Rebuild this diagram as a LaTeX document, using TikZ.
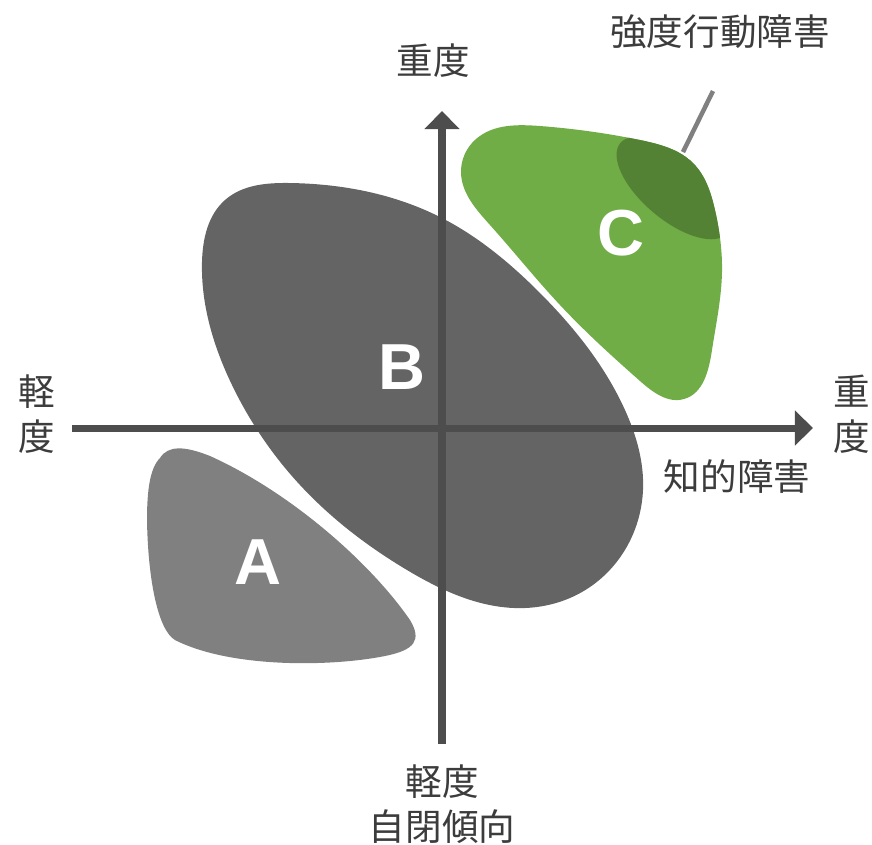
\documentclass[tikz,border=0pt]{standalone}
\usepackage{fontspec}
\setmainfont{Liberation Sans}
\newfontfamily\jpfont{Noto Sans CJK JP}
\usetikzlibrary{positioning,calc,arrows.meta,hobby}
\definecolor{groupA}{HTML}{808080}
\definecolor{groupB}{HTML}{646464}
\definecolor{groupC}{HTML}{70AD47}
\definecolor{severe}{HTML}{548235}
\definecolor{axisgray}{HTML}{4D4D4D}
\definecolor{textgray}{HTML}{3C3C3C}
\newcommand{\blobC}{(476,139) .. (540,126) .. (640,140) .. (693,163) .. (715,210) .. (722,272) .. (712,350) .. (684,399) .. (640,381) .. (560,305) .. (490,225) .. (461,173)}

\begin{document}
\begin{tikzpicture}[x=0.01cm, y=-0.01cm,
		axis/.style={draw=axisgray, line width=0.07cm, -{Triangle[length=0.18cm, width=0.34cm]}},
		lbl/.style={text=textgray, font=\jpfont\fontsize{10.4}{12.8}\selectfont, align=center, inner sep=0pt},
		letter/.style={text=white, font=\bfseries\fontsize{18.5}{20}\selectfont, inner sep=0pt}]
	\useasboundingbox (0,0) rectangle (872,844);
	\fill[groupB, use Hobby shortcut, closed=true] (290,183) .. (440,217) .. (540,293) .. (625,410) .. (643,490) .. (590,587) .. (525,608) .. (407,570) .. (300,485) .. (232,385) .. (202,262) .. (225,200);
	\fill[groupA] (160,458) .. controls (168,445) and (185,446) .. (210,456)
		.. controls (290,492) and (370,562) .. (410,620)
		.. controls (422,640) and (415,650) .. (385,656)
		.. controls (330,667) and (230,668) .. (175,640)
		.. controls (158,630) and (148,580) .. (147,520)
		.. controls (147,490) and (150,468) .. (160,458) -- cycle;
	\fill[groupC, use Hobby shortcut, closed=true] \blobC;
	\begin{scope}
		\clip[use Hobby shortcut, closed=true] \blobC;
		\fill[severe, rotate around={-40:(674,188)}] (674,188) ellipse [x radius=70, y radius=32];
	\end{scope}
	\coordinate (O) at (442,428);
	\coordinate (xlow) at (72,428);
	\coordinate (xhigh) at (813,428);
	\coordinate (ylow) at (442,744);
	\coordinate (yhigh) at (442,111);
	\draw[axis] (xlow) -- (xhigh);
	\draw[axis] (ylow) -- (yhigh);
	\node[letter] (A) at (258,562) {A};
	\node[letter] (B) at (402,367) {B};
	\node[letter] (C) at (621,233) {C};
	\node[lbl] (yheavy) at (433,61) {重度};
	\node[lbl] (xlight) at (37,414) {軽\\度};
	\node[lbl] (xheavy) at (852,414) {重\\度};
	\node[lbl] (xname) at (737,477) {知的障害};
	\node[lbl] (ylight) at (442,804) {軽度\\自閉傾向};
	\node[lbl] (severetag) at (720,32) {強度行動障害};
	\coordinate (tagtop) at (713,91);
	\coordinate (tagend) at (683,152);
	\draw[groupA, line width=0.045cm] (tagtop) -- (tagend);
\end{tikzpicture}
\end{document}
